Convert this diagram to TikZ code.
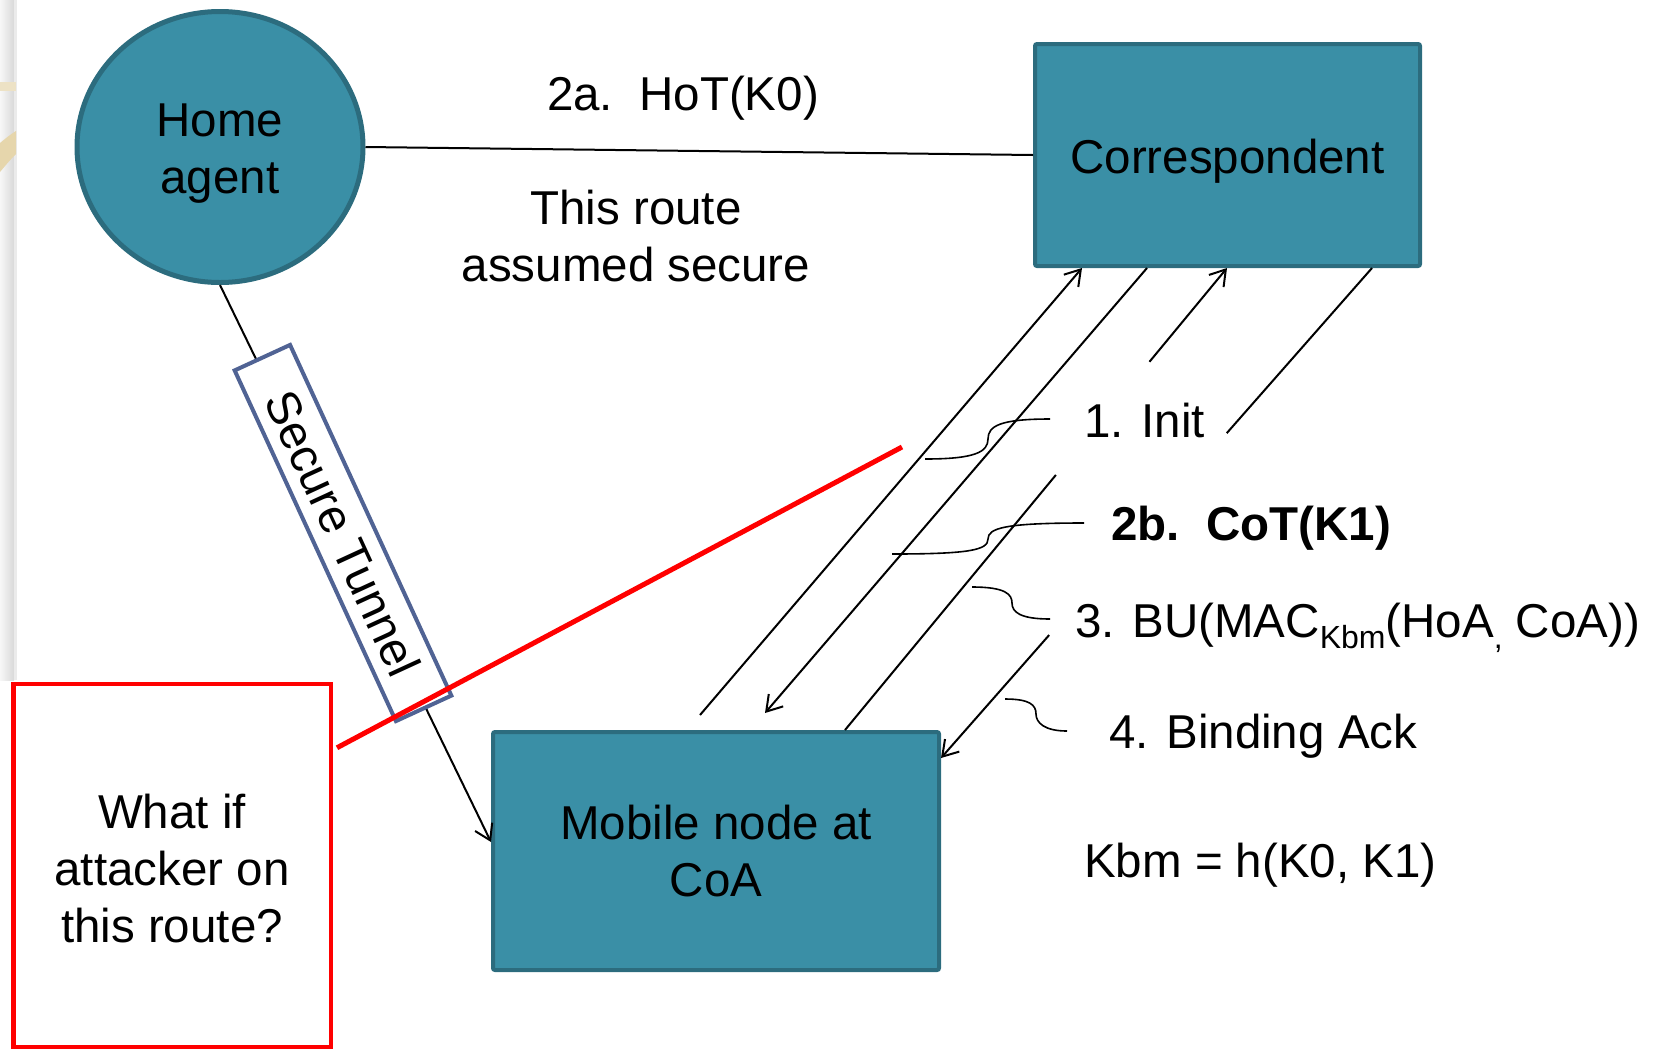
\documentclass[tikz,border=0pt]{standalone}
\usepackage{fontspec}
\setmainfont{Liberation Sans}
\usetikzlibrary{arrows.meta,calc,shapes.geometric}
\definecolor{agentfill}{RGB}{58,143,166}
\definecolor{agentedge}{RGB}{44,108,126}
\definecolor{tunneledge}{RGB}{80,99,148}
\definecolor{sandtone}{RGB}{230,214,172}
\newcommand\smallsub{\fontsize{32}{38}\selectfont}
\newcommand\tallstrut{\rule{0pt}{46pt}}
\begin{document}
\begin{tikzpicture}[x=1pt,y=-1pt,
  every node/.style={font=\fontsize{47.5}{57}\selectfont},
  station/.style={draw=agentedge, fill=agentfill, line width=4pt, rounded corners=2pt,
                  align=center, inner sep=0pt},
  msg/.style={line width=2pt},
  arrowed/.style={-{Straight Barb[length=15pt,width=19pt]}},
  callout/.style={line width=1.6pt},
  msgtext/.style={inner sep=0pt, anchor=base west}
]
\useasboundingbox (0,0) rectangle (1653,1050);

% slide margin strip and ribbon
\shade[left color=black!3, right color=black!15] (0,0) rectangle (14,680);
\fill[black!8] (14,0) rectangle (17,680);
\fill[sandtone!70] (0,82) rectangle (16,91);
\fill[sandtone] (0,143) .. controls (6,138) and (11,134) .. (16,131) -- (16,154)
   .. controls (10,160) and (5,166) .. (0,172) -- cycle;

% hosts
\node[ellipse, draw=agentedge, fill=agentfill, line width=5pt, minimum width=286pt,
      minimum height=271pt, inner sep=0pt, align=center] (ha) at (220,147) {\tallstrut Home\\agent};
\node[station, minimum width=385pt, minimum height=222pt] (corr) at (1227.5,155) {\tallstrut Correspondent};
\node[station, minimum width=446pt, minimum height=238pt] (mob) at (716,851) {Mobile node at\\CoA};
\node[draw=red, line width=4.5pt, minimum width=317.5pt, minimum height=363pt, align=center,
      inner sep=0pt] (att) at (172,865.5) {\rule{0pt}{40pt}What if\\attacker on\\this route?};

% home agent <-> correspondent
\draw[msg] (ha.east) -- (corr.west);
\node[inner sep=0pt, anchor=base] (hot) at (683,110) {2a.~~HoT(K0)};
\node[inner sep=0pt, align=center] (sec) at (636,236) {This route\\assumed secure};

% secure tunnel towards the mobile node
\draw[msg, arrowed] (ha.south) -- ($(mob.west)+(0,-9)$);
\node[draw=tunneledge, fill=white, line width=4pt, rotate=-65.3, minimum width=386pt,
      minimum height=61pt, inner sep=0pt] (tun) at (343,533) {Secure Tunnel};

% attacker route
\coordinate (cut) at (902,447);
\draw[red, line width=5pt] ($(att.north east)+(4,66)$) -- (cut);

% message exchange between mobile node and correspondent
\coordinate (i0) at (700,715);
\draw[msg, arrowed] (i0) -- ($(corr.south west)+(49,0)$);
\coordinate (c0) at (765,713);
\draw[msg, arrowed] ($(corr.south west)+(114,0)$) -- (c0);
\coordinate (b0) at ($(mob.north west)+(354,0)$);
\coordinate (b1) at ($(corr.south west)+(194,0)$);
\draw[msg] (b0) -- ($(b0)!0.552!(b1)$);
\draw[msg, arrowed] ($(b0)!0.797!(b1)$) -- (b1);
\coordinate (a0) at ($(corr.south west)+(339,0)$);
\coordinate (a1) at ($(mob.north east)+(0,28)$);
\draw[msg] (a0) -- ($(a0)!0.337!(a1)$);
\draw[msg, arrowed] ($(a0)!0.749!(a1)$) -- (a1);

% message labels
\node[msgtext] (init) at (1084,437) {1. Init};
\node[msgtext] (cot) at (1111,540) {\bfseries 2b.~~CoT(K1)};
\node[msgtext] (bu) at (1075,637)
  {3. BU(MAC\raisebox{-11pt}{\smallsub Kbm}(HoA\raisebox{-11pt}{\smallsub ,} CoA))};
\node[msgtext] (ack) at (1109,748) {4. Binding Ack};
\node[msgtext] (kbm) at (1084,877) {Kbm = h(K0, K1)};

% callouts tying labels to their messages
\draw[callout] (1050,419) .. controls (1000,419) and (988,426) .. (988,439)
   .. controls (988,452) and (975,459) .. (925,459);
\draw[callout] (1084,523) .. controls (1005,523) and (988,528) .. (988,539)
   .. controls (988,550) and (970,554) .. (892,554);
\draw[callout] (972,587) .. controls (1005,587) and (1012,594) .. (1012,603)
   .. controls (1012,612) and (1020,619) .. (1050,619);
\draw[callout] (1005,699) .. controls (1030,699) and (1036,705) .. (1036,714)
   .. controls (1036,723) and (1045,731) .. (1067,731);
\end{tikzpicture}
\end{document}
